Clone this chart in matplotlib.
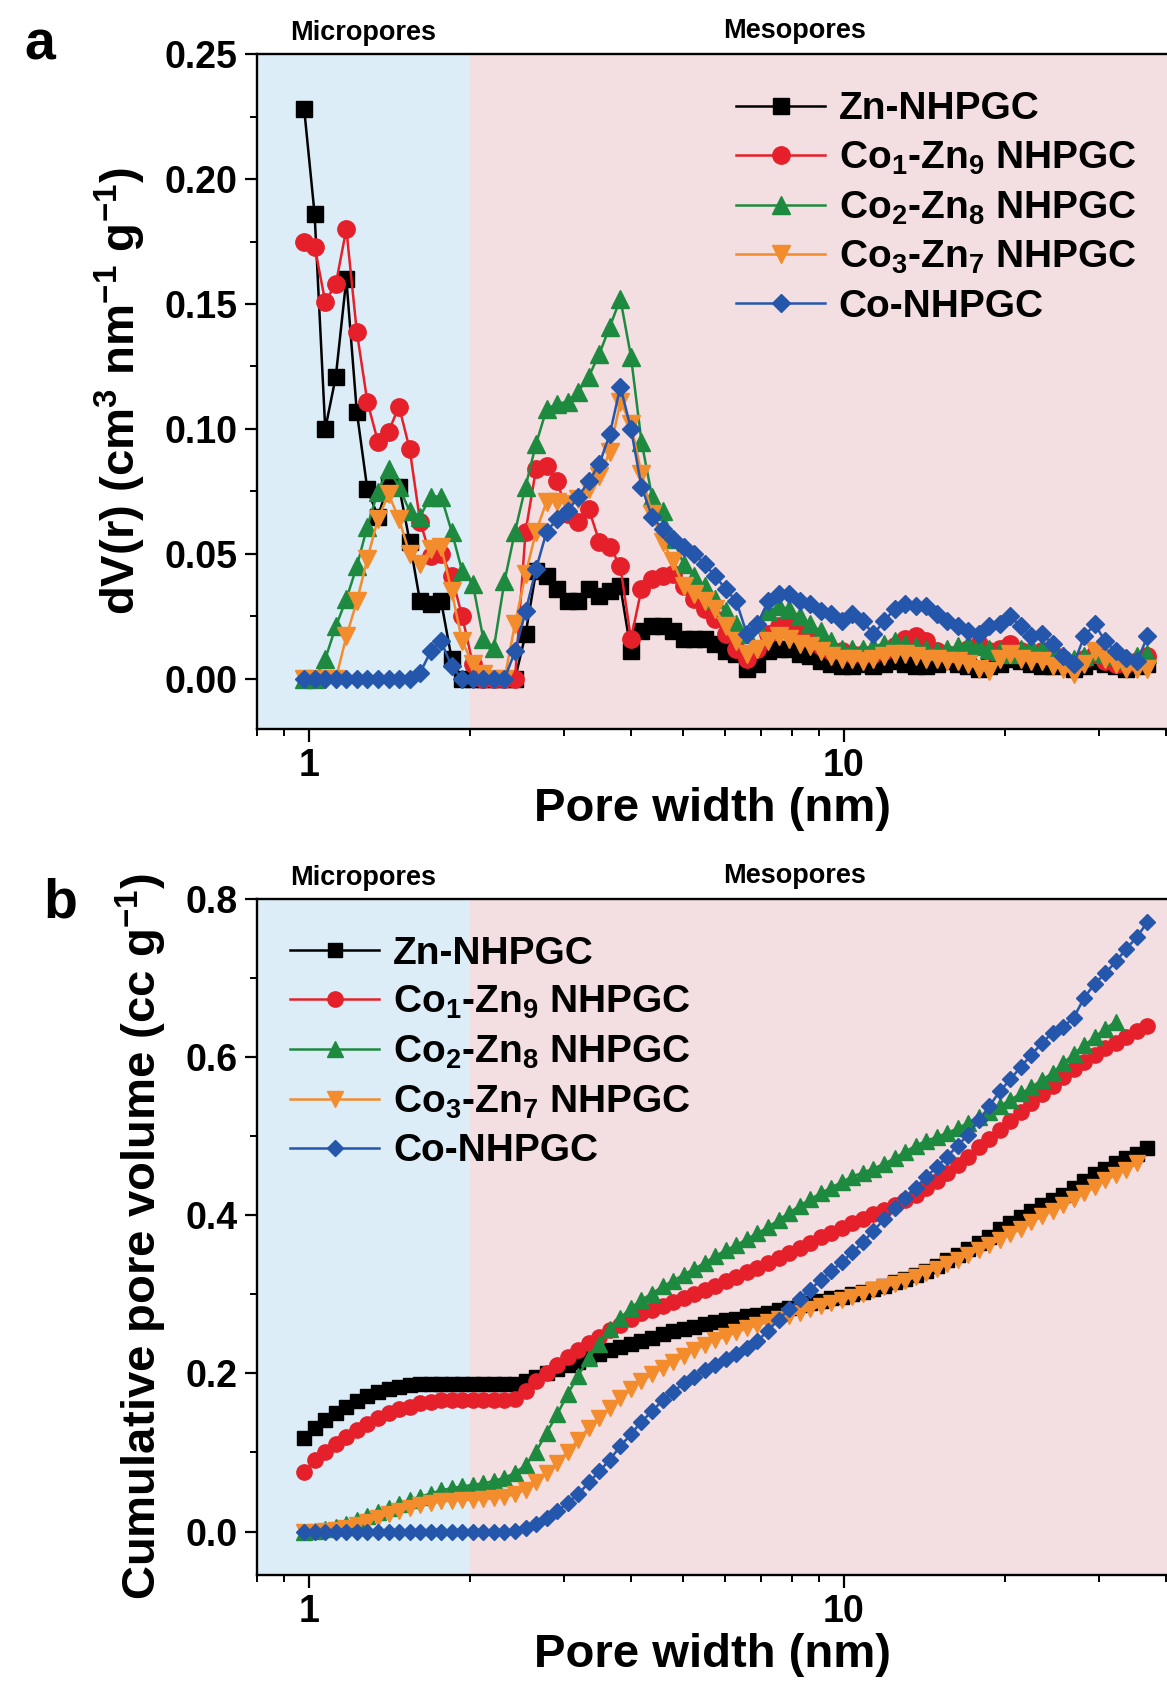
import matplotlib
matplotlib.use('Agg')
import matplotlib.pyplot as plt
from matplotlib.ticker import MultipleLocator, LogLocator, FormatStrFormatter, NullFormatter
from matplotlib.transforms import blended_transform_factory

plt.rcParams['font.family'] = ['Liberation Sans', 'DejaVu Sans']
plt.rcParams['font.weight'] = 'bold'
plt.rcParams['axes.labelweight'] = 'bold'
plt.rcParams['mathtext.fontset'] = 'custom'
plt.rcParams['mathtext.bf'] = 'Liberation Sans:bold'
plt.rcParams['mathtext.rm'] = 'Liberation Sans:bold'
plt.rcParams['mathtext.default'] = 'bf'

# pore widths (nm), shared by both panels
pore_width = [0.980, 1.025, 1.073, 1.123, 1.175, 1.229, 1.286, 1.346, 1.409, 1.474,
              1.543, 1.614, 1.689, 1.767, 1.849, 1.935, 2.025, 2.119, 2.217, 2.320,
              2.428, 2.541, 2.658, 2.782, 2.911, 3.046, 3.187, 3.335, 3.490, 3.652,
              3.821, 3.999, 4.184, 4.378, 4.581, 4.794, 5.016, 5.249, 5.493, 5.748,
              6.014, 6.294, 6.586, 6.891, 7.211, 7.546, 7.896, 8.262, 8.646, 9.047,
              9.467, 9.906, 10.37, 10.85, 11.35, 11.88, 12.43, 13.00, 13.61, 14.24,
              14.90, 15.59, 16.31, 17.07, 17.86, 18.69, 19.56, 20.47, 21.42, 22.41,
              23.45, 24.54, 25.68, 26.87, 28.12, 29.42, 30.79, 32.22, 33.71, 35.28, 36.92]

labels = ['Zn-NHPGC', r'Co$_{1}$-Zn$_{9}$ NHPGC', r'Co$_{2}$-Zn$_{8}$ NHPGC',
          r'Co$_{3}$-Zn$_{7}$ NHPGC', 'Co-NHPGC']
colors = ['#000000', '#E5202A', '#1E8A3F', '#F28C2C', '#2456AC']
markers = ['s', 'o', '^', 'v', 'D']

# panel a: dV(r)
dv_zn = [0.228, 0.186, 0.100, 0.121, 0.160, 0.107, 0.076, 0.065, 0.078, 0.077,
         0.055, 0.031, 0.030, 0.031, 0.008, 0.000, 0.000, 0.000, 0.000, 0.000,
         0.000, 0.018, 0.043, 0.041, 0.036, 0.031, 0.031, 0.036, 0.033, 0.035,
         0.037, 0.011, 0.019, 0.021, 0.021, 0.019, 0.016, 0.016, 0.016, 0.014,
         0.011, 0.010, 0.004, 0.006, 0.011, 0.012, 0.012, 0.010, 0.009, 0.007,
         0.006, 0.005, 0.005, 0.006, 0.005, 0.006, 0.007, 0.006, 0.005, 0.005,
         0.006, 0.007, 0.006, 0.005, 0.004, 0.005, 0.006, 0.008, 0.007, 0.006,
         0.005, 0.005, 0.006, 0.004, 0.005, 0.007, 0.006, 0.005, 0.004, 0.005, 0.006]
dv_co1 = [0.175, 0.173, 0.151, 0.158, 0.180, 0.139, 0.111, 0.095, 0.099, 0.109,
          0.092, 0.063, 0.049, 0.050, 0.041, 0.025, 0.006, 0.000, 0.000, 0.000,
          0.000, 0.059, 0.084, 0.085, 0.079, 0.066, 0.063, 0.068, 0.055, 0.053,
          0.045, 0.016, 0.036, 0.040, 0.041, 0.042, 0.037, 0.032, 0.028, 0.024,
          0.018, 0.012, 0.008, 0.012, 0.018, 0.021, 0.021, 0.019, 0.016, 0.013,
          0.011, 0.011, 0.010, 0.010, 0.010, 0.011, 0.013, 0.016, 0.017, 0.015,
          0.011, 0.010, 0.010, 0.012, 0.014, 0.011, 0.012, 0.014, 0.011, 0.010,
          0.011, 0.010, 0.008, 0.006, 0.008, 0.010, 0.007, 0.006, 0.006, 0.007, 0.009]
dv_co2 = [0.000, 0.000, 0.008, 0.021, 0.032, 0.045, 0.061, 0.075, 0.084, 0.077,
          0.067, 0.065, 0.073, 0.073, 0.059, 0.043, 0.038, 0.016, 0.0125, 0.039,
          0.059, 0.077, 0.094, 0.108, 0.110, 0.111, 0.115, 0.121, 0.130, 0.141,
          0.152, 0.129, 0.095, 0.073, 0.067, 0.056, 0.046, 0.041, 0.037, 0.032,
          0.027, 0.022, 0.018, 0.022, 0.027, 0.029, 0.028, 0.025, 0.022, 0.019,
          0.015, 0.012, 0.012, 0.012, 0.013, 0.014, 0.015, 0.014, 0.013, 0.012,
          0.011, 0.012, 0.013, 0.014, 0.013, 0.012, 0.011, 0.010, 0.012, 0.013,
          0.012, 0.010, 0.009, 0.008, 0.009, 0.011, 0.010, 0.009, 0.008, 0.009, 0.010]
dv_co3 = [0.000, 0.000, 0.000, 0.000, 0.017, 0.031, 0.048, 0.064, 0.074, 0.064,
          0.050, 0.046, 0.052, 0.053, 0.035, 0.015, 0.006, 0.002, 0.000, 0.000,
          0.022, 0.042, 0.059, 0.071, 0.071, 0.070, 0.072, 0.076, 0.081, 0.091,
          0.111, 0.102, 0.082, 0.066, 0.055, 0.047, 0.037, 0.034, 0.031, 0.028,
          0.021, 0.015, 0.010, 0.012, 0.015, 0.017, 0.016, 0.014, 0.013, 0.011,
          0.009, 0.008, 0.008, 0.007, 0.008, 0.009, 0.010, 0.010, 0.009, 0.008,
          0.008, 0.007, 0.007, 0.006, 0.004, 0.003, 0.008, 0.010, 0.008, 0.007,
          0.007, 0.005, 0.004, 0.002, 0.006, 0.011, 0.008, 0.006, 0.004, 0.004, 0.004]
dv_co = [0.000, 0.000, 0.000, 0.000, 0.000, 0.000, 0.000, 0.000, 0.000, 0.000,
         0.000, 0.0025, 0.011, 0.015, 0.005, 0.000, 0.000, 0.000, 0.000, 0.000,
         0.011, 0.027, 0.044, 0.059, 0.064, 0.067, 0.073, 0.079, 0.086, 0.098,
         0.117, 0.100, 0.077, 0.065, 0.060, 0.056, 0.053, 0.050, 0.046, 0.041,
         0.036, 0.031, 0.018, 0.022, 0.031, 0.034, 0.034, 0.031, 0.030, 0.027,
         0.026, 0.023, 0.026, 0.023, 0.018, 0.023, 0.028, 0.030, 0.029, 0.029,
         0.026, 0.023, 0.021, 0.019, 0.018, 0.021, 0.022, 0.025, 0.021, 0.017,
         0.018, 0.014, 0.009, 0.006, 0.017, 0.022, 0.015, 0.011, 0.0085, 0.007, 0.017]

# panel b: cumulative pore volume
cum_zn = [0.118, 0.131, 0.141, 0.150, 0.157, 0.165, 0.171, 0.176, 0.180, 0.183,
          0.185, 0.186, 0.187, 0.187, 0.187, 0.187, 0.187, 0.187, 0.187, 0.187,
          0.187, 0.190, 0.196, 0.200, 0.205, 0.210, 0.214, 0.221, 0.225, 0.229,
          0.233, 0.237, 0.241, 0.245, 0.250, 0.254, 0.256, 0.259, 0.262, 0.265,
          0.267, 0.269, 0.272, 0.274, 0.277, 0.280, 0.283, 0.286, 0.289, 0.292,
          0.295, 0.297, 0.300, 0.303, 0.307, 0.311, 0.315, 0.320, 0.325, 0.330,
          0.336, 0.343, 0.350, 0.357, 0.365, 0.373, 0.382, 0.390, 0.398, 0.406,
          0.413, 0.419, 0.426, 0.434, 0.443, 0.452, 0.459, 0.466, 0.472, 0.478, 0.485]
cum_co1 = [0.075, 0.090, 0.101, 0.111, 0.120, 0.128, 0.136, 0.143, 0.150, 0.155,
           0.158, 0.162, 0.164, 0.166, 0.166, 0.166, 0.166, 0.166, 0.166, 0.166,
           0.167, 0.178, 0.190, 0.200, 0.210, 0.221, 0.229, 0.238, 0.246, 0.255,
           0.261, 0.269, 0.276, 0.280, 0.285, 0.290, 0.295, 0.300, 0.305, 0.311,
           0.317, 0.322, 0.328, 0.333, 0.340, 0.346, 0.352, 0.359, 0.365, 0.372,
           0.378, 0.384, 0.390, 0.395, 0.401, 0.407, 0.413, 0.419, 0.426, 0.434,
           0.443, 0.453, 0.463, 0.474, 0.486, 0.497, 0.508, 0.519, 0.531, 0.542,
           0.553, 0.564, 0.575, 0.585, 0.594, 0.603, 0.611, 0.618, 0.626, 0.633, 0.640]
cum_co2 = [0.000, 0.001, 0.003, 0.006, 0.010, 0.015, 0.020, 0.025, 0.030, 0.035,
           0.040, 0.044, 0.048, 0.052, 0.055, 0.057, 0.059, 0.061, 0.064, 0.068,
           0.074, 0.084, 0.101, 0.125, 0.148, 0.174, 0.197, 0.220, 0.237, 0.256,
           0.270, 0.283, 0.293, 0.301, 0.310, 0.317, 0.325, 0.332, 0.340, 0.348,
           0.356, 0.362, 0.370, 0.377, 0.385, 0.394, 0.403, 0.412, 0.420, 0.428,
           0.435, 0.442, 0.449, 0.454, 0.459, 0.465, 0.472, 0.480, 0.488, 0.494,
           0.499, 0.504, 0.510, 0.517, 0.524, 0.530, 0.538, 0.546, 0.554, 0.562,
           0.571, 0.580, 0.592, 0.604, 0.615, 0.625, 0.636, 0.645]
cum_co3 = [0.000, 0.000, 0.001, 0.002, 0.004, 0.008, 0.012, 0.017, 0.022, 0.026,
           0.030, 0.033, 0.036, 0.038, 0.039, 0.040, 0.040, 0.041, 0.042, 0.044,
           0.047, 0.053, 0.062, 0.074, 0.087, 0.101, 0.116, 0.131, 0.143, 0.156,
           0.169, 0.180, 0.190, 0.199, 0.207, 0.214, 0.222, 0.229, 0.236, 0.242,
           0.247, 0.252, 0.257, 0.261, 0.265, 0.269, 0.273, 0.277, 0.281, 0.285,
           0.289, 0.293, 0.297, 0.301, 0.305, 0.309, 0.313, 0.317, 0.322, 0.327,
           0.332, 0.338, 0.344, 0.350, 0.356, 0.362, 0.369, 0.376, 0.383, 0.391,
           0.399, 0.406, 0.413, 0.420, 0.428, 0.436, 0.444, 0.451, 0.457, 0.466]
cum_co = [0.000, 0.000, 0.000, 0.000, 0.000, 0.000, 0.000, 0.000, 0.000, 0.000,
          0.000, 0.000, 0.000, 0.000, 0.000, 0.000, 0.000, 0.000, 0.000, 0.000,
          0.001, 0.004, 0.010, 0.017, 0.026, 0.036, 0.047, 0.062, 0.076, 0.091,
          0.108, 0.123, 0.139, 0.152, 0.166, 0.176, 0.188, 0.196, 0.204, 0.211,
          0.218, 0.225, 0.232, 0.241, 0.254, 0.268, 0.281, 0.294, 0.306, 0.318,
          0.329, 0.341, 0.353, 0.366, 0.380, 0.395, 0.409, 0.422, 0.435, 0.448,
          0.461, 0.474, 0.488, 0.502, 0.520, 0.538, 0.557, 0.572, 0.588, 0.603,
          0.618, 0.631, 0.638, 0.650, 0.675, 0.693, 0.706, 0.721, 0.737, 0.752, 0.771]

W, H = 1167, 1682
fig = plt.figure(figsize=(W / 100, H / 100), dpi=100)


def px_axes(left, top, right, bottom):
    return fig.add_axes([left / W, 1 - bottom / H, (right - left) / W, (bottom - top) / H])


ax_a = px_axes(257, 54, 1169, 729)
ax_b = px_axes(257, 899, 1169, 1575)

msize_a = [11, 12.5, 13, 13, 9.5]
msize_b = [10, 11, 11.5, 11.5, 8.5]

for i, ys in enumerate([dv_zn, dv_co1, dv_co2, dv_co3, dv_co]):
    ax_a.plot(pore_width[:len(ys)], ys, color=colors[i], marker=markers[i],
              markersize=msize_a[i], lw=1.8, mec=colors[i], label=labels[i], zorder=3)

for i, ys in enumerate([cum_zn, cum_co1, cum_co2, cum_co3, cum_co]):
    ax_b.plot(pore_width[:len(ys)], ys, color=colors[i], marker=markers[i],
              markersize=msize_b[i], lw=1.8, mec=colors[i], label=labels[i], zorder=3)

for ax in (ax_a, ax_b):
    ax.set_xscale('log')
    ax.set_xlim(0.8, 40.5)
    ax.axvspan(0.8, 2, color='#DCEDF8', lw=0, zorder=0)
    ax.axvspan(2, 40.5, color='#F3DEE1', lw=0, zorder=0)
    ax.spines['right'].set_visible(False)
    for s in ('left', 'bottom', 'top'):
        ax.spines[s].set_linewidth(1.7)
    ax.set_xticks([1, 10])
    ax.set_xticklabels(['1', '10'])
    ax.xaxis.set_minor_locator(LogLocator(base=10, subs=[2, 3, 4, 5, 6, 7, 8, 9]))
    ax.xaxis.set_minor_formatter(NullFormatter())
    ax.tick_params(which='major', direction='out', length=9, width=1.6, labelsize=27, pad=5,
                   top=False, right=False)
    ax.tick_params(which='minor', direction='out', length=5, width=1.4, top=False, right=False)
    ax.set_xlabel('Pore width (nm)', fontsize=34, fontweight='bold', labelpad=2)
    tr = blended_transform_factory(ax.transData, ax.transAxes)
    ax.text(1.265, 1.021, 'Micropores', transform=tr, ha='center', va='baseline', fontsize=19.5)
    ax.text(8.1, 1.024, 'Mesopores', transform=tr, ha='center', va='baseline', fontsize=19.5)

ax_a.set_ylim(-0.02, 0.25)
ax_a.yaxis.set_major_locator(MultipleLocator(0.05))
ax_a.yaxis.set_minor_locator(MultipleLocator(0.025))
ax_a.yaxis.set_major_formatter(FormatStrFormatter('%.2f'))
ax_a.set_ylabel(r'dV(r) (cm$^{3}$ nm$^{-1}$ g$^{-1}$)', fontsize=34, fontweight='bold',
                labelpad=12)

ax_b.set_ylim(-0.055, 0.8)
ax_b.yaxis.set_major_locator(MultipleLocator(0.2))
ax_b.yaxis.set_minor_locator(MultipleLocator(0.1))
ax_b.yaxis.set_major_formatter(FormatStrFormatter('%.1f'))
ax_b.set_ylabel(r'Cumulative pore volume (cc g$^{-1}$)', fontsize=34, fontweight='bold',
                labelpad=12)

ax_a.legend(loc='upper left', bbox_to_anchor=(0.525, 0.945), frameon=False, fontsize=28,
            handlelength=2.3, handletextpad=0.35, labelspacing=0.32, borderpad=0,
            borderaxespad=0, numpoints=1)
ax_b.legend(loc='upper left', bbox_to_anchor=(0.036, 0.946), frameon=False, fontsize=28,
            handlelength=2.3, handletextpad=0.35, labelspacing=0.32, borderpad=0,
            borderaxespad=0, numpoints=1)

fig.text(24 / W, 1 - 59 / H, 'a', fontsize=40, fontweight='bold', va='baseline')
fig.text(43 / W, 1 - 917 / H, 'b', fontsize=40, fontweight='bold', va='baseline')

fig.savefig('out.png', dpi=100)
